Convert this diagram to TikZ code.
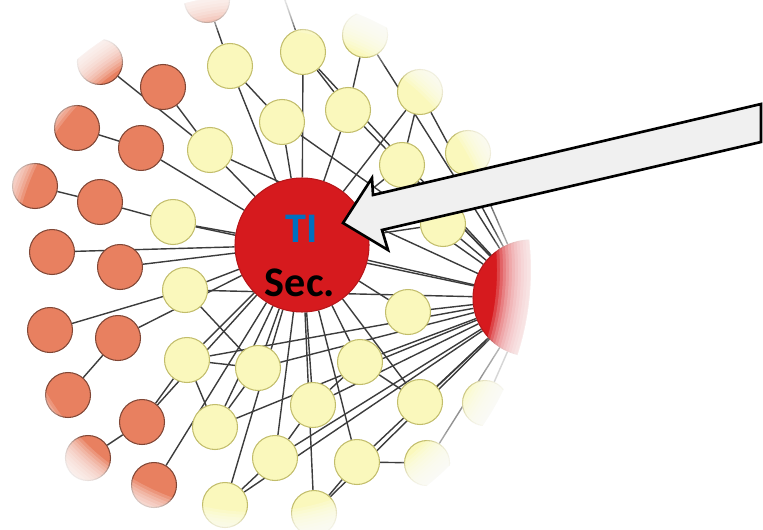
\documentclass[tikz,border=0pt]{standalone}
\usepackage{fontspec}
\setmainfont{Carlito}
\usetikzlibrary{backgrounds}

\definecolor{hubred}{RGB}{214,26,30}
\definecolor{tiblue}{RGB}{0,112,192}
\definecolor{nodeyel}{RGB}{250,248,188}
\definecolor{nodeorg}{RGB}{232,128,96}
\definecolor{edgegray}{RGB}{60,60,60}
\definecolor{arrowfill}{RGB}{240,240,240}

\tikzset{
  yel/.style={circle,draw=yellow!45!gray,fill=nodeyel,line width=0.6pt,minimum size=0.9cm,inner sep=0pt},
  org/.style={circle,draw=nodeorg!55!black,fill=nodeorg,line width=0.6pt,minimum size=0.9cm,inner sep=0pt},
  hub/.style={circle,draw=hubred!85!black,fill=hubred,line width=0.6pt,inner sep=0pt},
  link/.style={draw=edgegray,line width=0.8pt},
  fadering/.style={fill=white,even odd rule},
}

\begin{document}
\begin{tikzpicture}[x=0.02cm,y=-0.02cm]
        \useasboundingbox(0,0)rectangle(763,530);
        \node[hub,minimum size=2.68cm](ti)at(302,245){};
        \node[hub,minimum size=2.32cm](r2)at(531,298){};
        \node[font=\bfseries\fontsize{24}{28}\selectfont,text=tiblue](tilbl)at(302,229){TI};
        \node[font=\bfseries\fontsize{24}{28}\selectfont](seclbl)at(300,283){Sec.};
        \foreach \n/\x/\y in {o0/207/0,o1/100/62,o2/163/87,o3/77/128,o4/141/148,o5/35/186,o6/100/202,o7/52/252,
            o8/120/267,o9/50/330,o10/118/338,o11/68/395,o12/142/422,o13/88/458,o14/154/485}
            \node[org](\n)at(\x,\y){};
        \foreach \n/\x/\y in {y1/230/66,y2/210/150,y3/303/52,y4/365/35,y5/282/122,y6/348/110,y7/420/92,y8/402/165,
            y9/468/153,y10/443/224,y11/408/312,y12/173/222,y13/185/290,y14/187/360,y15/258/368,y16/360/362,
            y17/215/427,y18/313/405,y19/275/458,y20/357/462,y21/225/505,y22/314/513,y23/420/402,y24/427/463,y25/485/403}
            \node[yel](\n)at(\x,\y){};
        \coordinate(up)at(278,-20);
        \coordinate(mid)at(255,270);
        \begin{scope}[on background layer]
            \foreach \a/\b in {o0/y1,o1/y2,o2/y2,o3/o4,o4/ti,o5/o6,o6/y12,o7/ti,o8/ti,o9/y13,o10/ti,o11/o10,
                o12/y14,o12/ti,o13/o12,o14/ti,y3/up}
                \draw[link](\a)--(\b);
            \foreach \a in {y1,y2,y3,y5,y6,y7,y8,y10,y11,y12,y13,y14,y15,y16,y17,y18,y19,y20,y21,y22,y23,r2}
                \draw[link](\a)--(ti);
            \foreach \a in {y2,y3,y4,y5,y6,y7,y8,y9,y10,y11,y12,y13,y14,y15,y16,y17,y18,y19,y20,y21,y22,y23,y24,y25}
                \draw[link](\a)--(r2);
            \foreach \a/\b in {y1/y5,y3/y6,y4/y6,y7/y8,y15/y13,y17/y15,y21/y19,y22/y20,y18/y16,y23/y16,
                y24/y20,y14/y15,y19/y18,y17/y14}
                \draw[link](\a)--(\b);
        \end{scope}
        % soft round edge
        \foreach \r in {242,245,...,275}
            \fill[fadering,fill opacity=0.18](-50,-50)rectangle(640,600)(mid)circle[radius=\r*0.02cm];
        \fill[fadering](-50,-50)rectangle(640,600)(mid)circle[radius=5.52cm];
        \draw[line width=1.5pt,fill=arrowfill](343,223)--(372,178)--(373,195)--(761,104)--(761,142)--(382,230)--(388,250)--cycle;
    \end{tikzpicture}
\end{document}
